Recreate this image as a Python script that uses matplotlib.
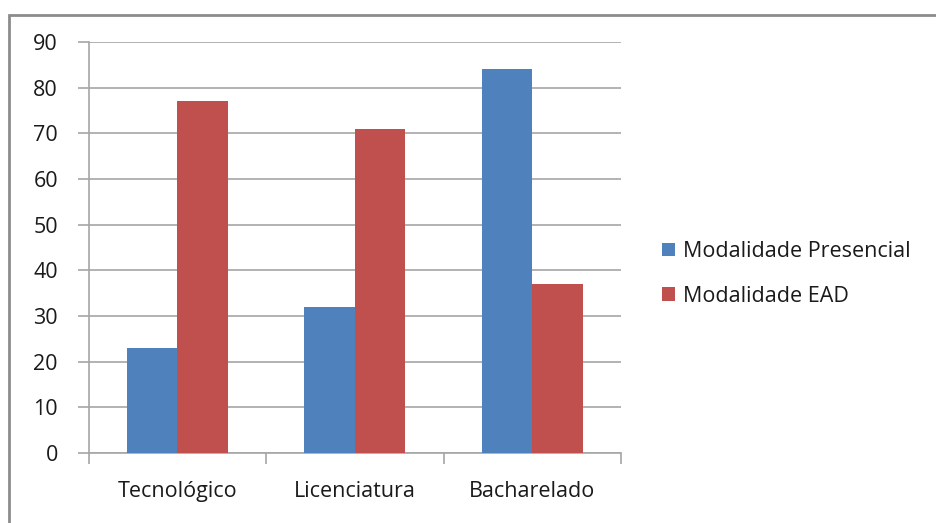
import matplotlib
matplotlib.use("Agg")
import matplotlib.pyplot as plt
from matplotlib.patches import Rectangle
import numpy as np

categories = ["Tecnológico", "Licenciatura", "Bacharelado"]
presencial = [23, 32, 84]
ead = [77, 71, 37]
series_names = ["Modalidade Presencial", "Modalidade EAD"]
colors = ["#4F81BD", "#C0504D"]
yticks = [0, 10, 20, 30, 40, 50, 60, 70, 80, 90]

plt.rcParams['font.family'] = ['Open Sans', 'DejaVu Sans']

W, H = 936, 523
fig = plt.figure(figsize=(W/100, H/100), dpi=100)
fig.patch.set_facecolor("white")

# outer frame
fig.add_artist(Rectangle((9/W, -0.1), 1.2, 1 - 15/H + 0.1, transform=fig.transFigure,
                         fill=False, edgecolor="#8C8C8C", linewidth=2))

x0, x1 = 88.5, 621
y0, y1 = 453, 42
ax = fig.add_axes([x0/W, 1 - y0/H, (x1-x0)/W, (y0-y1)/H])

x = np.arange(len(categories))
bw = 1/3.5
ax.bar(x - bw/2, presencial, width=bw, color=colors[0], label=series_names[0], zorder=3)
ax.bar(x + bw/2, ead, width=bw, color=colors[1], label=series_names[1], zorder=3)

ax.set_xlim(-0.5, len(categories) - 0.5)
ax.set_ylim(0, 90)
ax.set_yticks(yticks)
ax.yaxis.grid(True, color="#A6A6A6", linewidth=1.2, zorder=0)
ax.set_axisbelow(True)
for s in ["top", "right"]:
    ax.spines[s].set_visible(False)
for s in ["left", "bottom"]:
    ax.spines[s].set_color("#A6A6A6")
    ax.spines[s].set_linewidth(1.2)

fs = 15.5
ax.set_xticks(x)
ax.set_xticklabels(categories)
ax.tick_params(axis="x", length=0, pad=20, labelsize=fs, labelcolor="#1A1A1A")
ax.set_xticks(np.arange(-0.5, len(categories), 1), minor=True)
ax.tick_params(axis="x", which="minor", length=8, color="#A6A6A6", width=1.2)
ax.tick_params(axis="y", length=8, color="#A6A6A6", width=1.2, pad=14,
               labelsize=fs, labelcolor="#1A1A1A")

leg = fig.legend(handles=ax.get_legend_handles_labels()[0],
                 labels=series_names, loc="center left",
                 bbox_to_anchor=(643/W, 1 - 274/H), frameon=False,
                 fontsize=fs, handlelength=0.6, handleheight=0.6,
                 handletextpad=0.35, labelspacing=1.1)
for t in leg.get_texts():
    t.set_color("#1A1A1A")

fig.savefig("out.png", dpi=100, facecolor="white")
